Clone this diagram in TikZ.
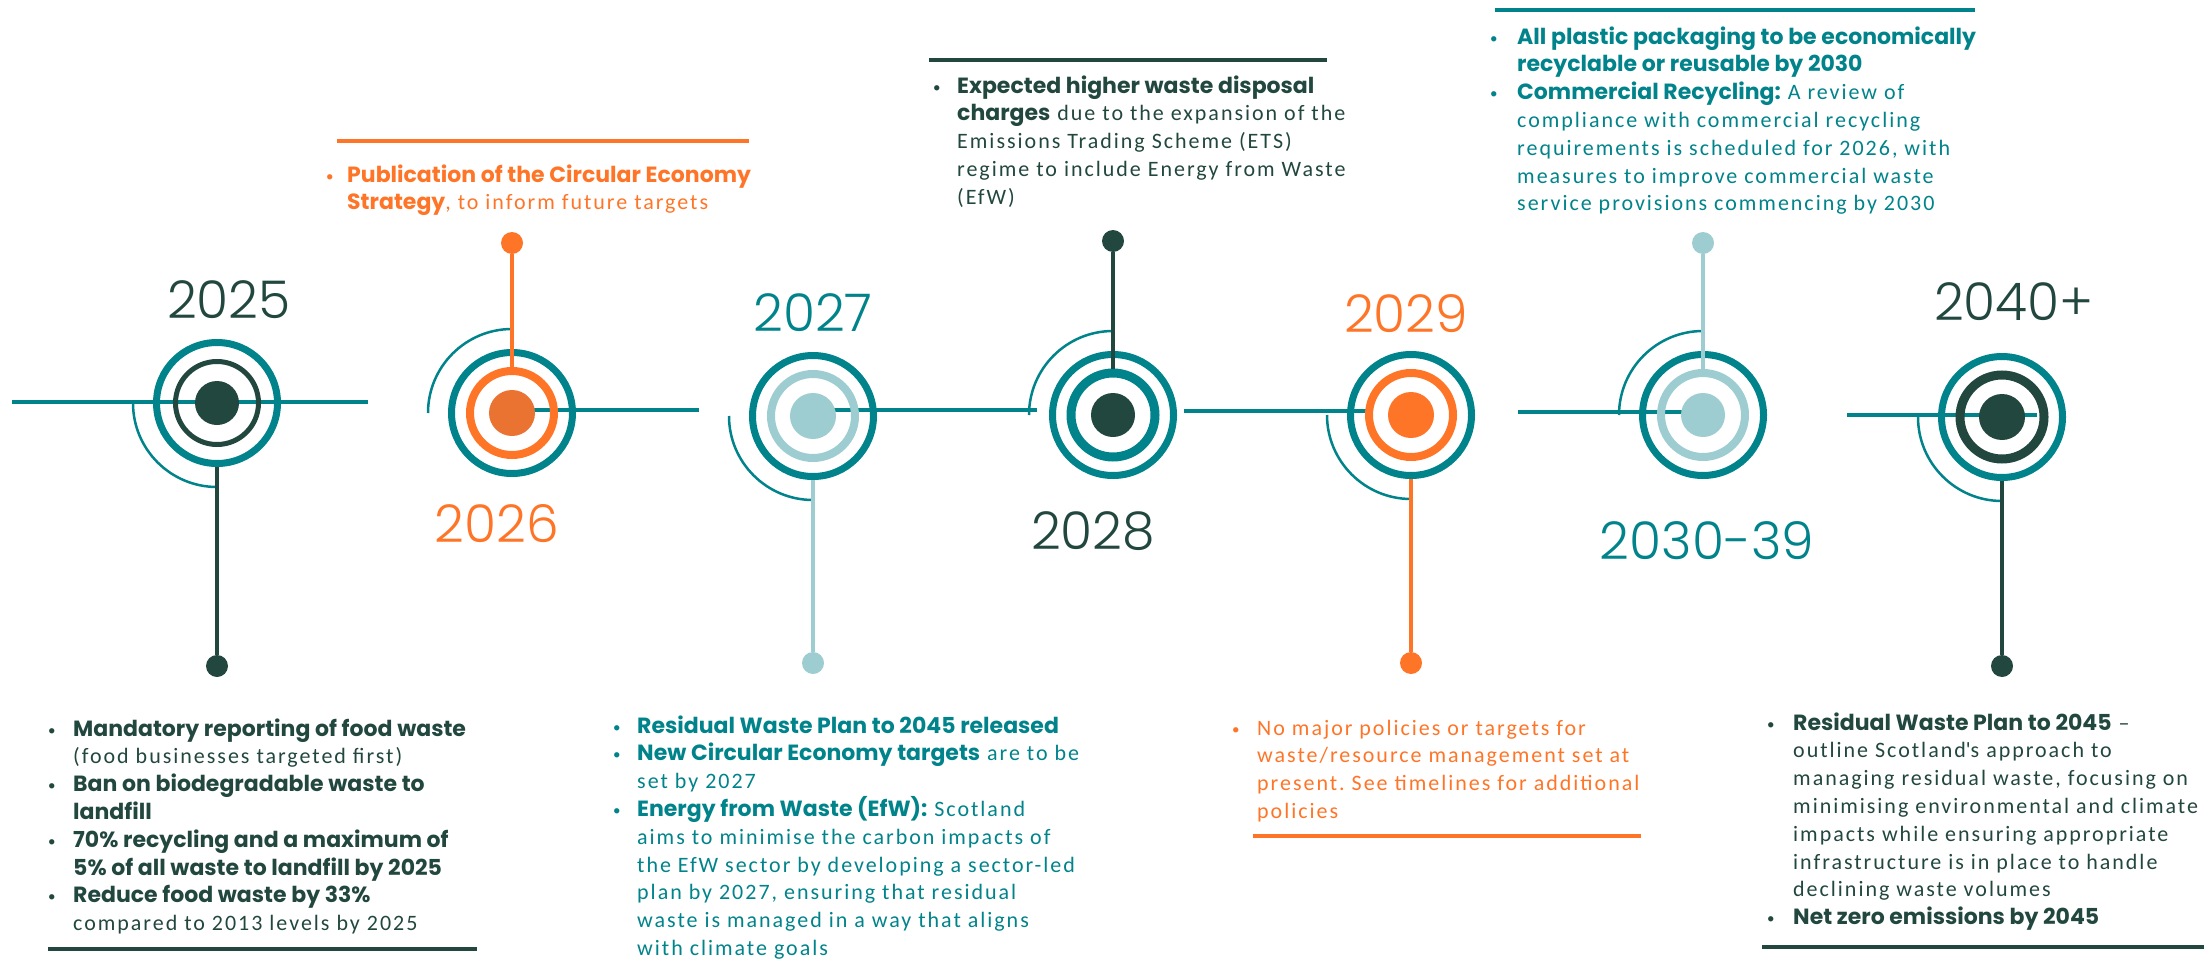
\documentclass[tikz,border=0pt]{standalone}
\usepackage{fontspec}
\setmainfont{Carlito}[LetterSpace=9]
\newfontfamily\gothic{Poppins}
\newfontfamily\yearfont{Poppins Light}
\usepackage{xcolor}
\usepackage{tikz}

\definecolor{tealc}{HTML}{00838A}
\definecolor{darkc}{HTML}{22473E}
\definecolor{orangec}{HTML}{FF7528}
\definecolor{orangedot}{HTML}{EB7332}
\definecolor{bluec}{HTML}{9DCCD1}

\frenchspacing
\newcommand{\hd}[1]{{\gothic\bfseries #1}}
\newcommand{\bl}[1][25pt]{\makebox[#1][l]{\raisebox{1pt}{\fontsize{15pt}{15pt}\selectfont\textbullet}}}
\newcommand{\ind}[1][25pt]{\hspace*{#1}}

\tikzset{
  hline/.style={draw=tealc, line width=3.5pt},
  swing/.style={draw=tealc, line width=2.5pt},
  stem/.style={draw=#1, line width=3.5pt},
  rule/.style={draw=#1, line width=4pt},
  outring/.style={circle, draw=tealc, line width=7pt, minimum size=121pt, inner sep=0pt},
  inring/.style={circle, draw=#1, line width=8pt, minimum size=84pt, inner sep=0pt},
  bigdot/.style={circle, fill=#1, minimum size=46pt, inner sep=0pt},
  pin/.style={circle, fill=#1, minimum size=22pt, inner sep=0pt},
  year/.style={text=#1, inner sep=0pt, font=\yearfont\fontsize{52pt}{60pt}\selectfont},
  txt/.style={text=#1, inner sep=0pt, anchor=north west, align=left,
    font=\fontsize{22pt}{27.8pt}\selectfont}
}

\begin{document}
\begin{tikzpicture}[x=1pt, y=-1pt]
\useasboundingbox (0,0) rectangle (2204,966);

% timeline pieces
\coordinate (l25) at (12,402);
\coordinate (r25) at (368,402);
\coordinate (l26) at (512,410);
\coordinate (r26) at (699,410);
\coordinate (l27) at (813,410);
\coordinate (r27) at (1037,410);
\coordinate (l28) at (1184,411);
\coordinate (r28) at (1373,411);
\coordinate (l30) at (1518,412);
\coordinate (r30) at (1690,412);
\coordinate (l40) at (1847,415);
\coordinate (r40) at (2037,415);
\draw[hline] (l25) -- (r25);
\draw[hline] (l26) -- (r26);
\draw[hline] (l27) -- (r27);
\draw[hline] (l28) -- (r28);
\draw[hline] (l30) -- (r30);
\draw[hline] (l40) -- (r40);

% 2025
\node[outring] (o25) at (217,403) {};
\node[circle, draw=darkc, line width=5pt, minimum size=83pt, inner sep=0pt] (i25) at (217,403) {};
\node[bigdot=darkc, minimum size=44pt] (d25) at (217,403) {};
\node[pin=darkc] (p25) at (217,666) {};
\node[year=darkc] (t25) at (229,300) {2025};
% 2026
\node[outring] (o26) at (512,413) {};
\node[inring=orangec] (i26) at (512,413) {};
\node[bigdot=orangedot] (d26) at (512,413) {};
\node[pin=orangec] (p26) at (512,243) {};
\node[year=orangec] (t26) at (497,524) {2026};
% 2027
\node[outring] (o27) at (813,416) {};
\node[inring=bluec] (i27) at (813,416) {};
\node[bigdot=bluec] (d27) at (813,416) {};
\node[pin=bluec] (p27) at (813,663) {};
\node[year=tealc] (t27) at (813,313) {2027};
% 2028
\node[outring] (o28) at (1113,415) {};
\node[inring=tealc, line width=9pt] (i28) at (1113,415) {};
\node[bigdot=darkc, minimum size=44pt] (d28) at (1113,415) {};
\node[pin=darkc] (p28) at (1113,241) {};
\node[year=darkc] (t28) at (1093,531) {2028};
% 2029
\node[outring] (o29) at (1411,415) {};
\node[inring=orangec] (i29) at (1411,415) {};
\node[bigdot=orangec] (d29) at (1411,415) {};
\node[pin=orangec] (p29) at (1411,663) {};
\node[year=orangec] (t29) at (1406,314) {2029};
% 2030-39
\node[outring] (o30) at (1703,415) {};
\node[inring=bluec] (i30) at (1703,415) {};
\node[bigdot=bluec, minimum size=44pt] (d30) at (1703,415) {};
\node[pin=bluec] (p30) at (1703,243) {};
\node[year=tealc] (t30) at (1707,541) {2030-39};
% 2040+
\node[outring] (o40) at (2002,417) {};
\node[inring=darkc, line width=9pt] (i40) at (2002,417) {};
\node[bigdot=darkc] (d40) at (2002,417) {};
\node[pin=darkc] (p40) at (2002,666) {};
\node[year=darkc] (t40) at (2014,302) {2040+};

% swings round the rings
\draw[swing] (o25.center) ++(180:84) arc[start angle=180, end angle=90, radius=84];
\draw[swing] (o26.center) ++(180:84) arc[start angle=180, end angle=270, radius=84];
\draw[swing] (o27.center) ++(180:84) arc[start angle=180, end angle=90, radius=84];
\draw[swing] (o28.center) ++(180:84) arc[start angle=180, end angle=270, radius=84];
\draw[swing] (o29.center) ++(180:84) arc[start angle=180, end angle=90, radius=84];
\draw[swing] (o30.center) ++(180:84) arc[start angle=180, end angle=270, radius=84];
\draw[swing] (o40.center) ++(180:84) arc[start angle=180, end angle=90, radius=84];

% stems
\draw[stem=darkc] (o25) -- (p25);
\draw[stem=orangec] (p26) -- (i26);
\draw[stem=bluec] (o27) -- (p27);
\draw[stem=darkc] (p28) -- (i28);
\draw[stem=orangec] (o29) -- (p29);
\draw[stem=bluec] (p30) -- (i30);
\draw[stem=darkc] (o40) -- (p40);

% rules
\draw[rule=orangec] (337,141) -- (749,141);
\draw[rule=darkc] (929,60) -- (1327,60);
\draw[rule=tealc] (1495,10) -- (1975,10);
\draw[rule=darkc] (48,949) -- (477,949);
\draw[rule=orangec] (1253,836) -- (1641,836);
\draw[rule=darkc] (1762,947) -- (2204,947);

% notes
\node[txt=orangec] (n26) at (326,162.5) {\strut\bl[21pt]\hd{Publication of the Circular Economy}\\
  \ind[21pt]\hd{Strategy}, to inform future targets};
\node[txt=darkc] (n28) at (933,73.5) {\strut\bl[24pt]\hd{Expected higher waste disposal}\\
  \ind[24pt]\hd{charges} due to the expansion of the\\
  \ind[24pt]Emissions Trading Scheme (ETS)\\
  \ind[24pt]regime to include Energy from Waste\\
  \ind[24pt](EfW)};
\node[txt=tealc] (n30) at (1490,24.5) {\strut\bl[27pt]\hd{All plastic packaging to be economically}\\
  \ind[27pt]\hd{recyclable or reusable by 2030}\\
  \bl[27pt]\hd{Commercial Recycling:} A review of\\
  \ind[27pt]compliance with commercial recycling\\
  \ind[27pt]requirements is scheduled for 2026, with\\
  \ind[27pt]measures to improve commercial waste\\
  \ind[27pt]service provisions commencing by 2030};
\node[txt=darkc] (n25) at (48,716.5) {\strut\bl\hd{Mandatory reporting of food waste}\\
  \ind(food businesses targeted first)\\
  \bl\hd{Ban on biodegradable waste to}\\
  \ind\hd{landfill}\\
  \bl\hd{70\% recycling and a maximum of}\\
  \ind\hd{5\% of all waste to landfill by 2025}\\
  \bl\hd{Reduce food waste by 33\%}\\
  \ind compared to 2013 levels by 2025};
\node[txt=tealc] (n27) at (613,713.5) {\strut\bl[24pt]\hd{Residual Waste Plan to 2045 released}\\
  \bl[24pt]\hd{New Circular Economy targets} are to be\\
  \ind[24pt]set by 2027\\
  \bl[24pt]\hd{Energy from Waste (EfW):} Scotland\\
  \ind[24pt]aims to minimise the carbon impacts of\\
  \ind[24pt]the EfW sector by developing a sector-led\\
  \ind[24pt]plan by 2027, ensuring that residual\\
  \ind[24pt]waste is managed in a way that aligns\\
  \ind[24pt]with climate goals};
\node[txt=orangec] (n29) at (1232,715.5) {\strut\bl No major policies or targets for\\
  \ind waste/resource management set at\\
  \ind present. See timelines for additional\\
  \ind policies};
\node[txt=darkc] (n40) at (1767,710.5) {\strut\bl[26pt]\hd{Residual Waste Plan to 2045} --\\
  \ind[26pt]outline Scotland\textquotesingle s approach to\\
  \ind[26pt]managing residual waste, focusing on\\
  \ind[26pt]minimising environmental and climate\\
  \ind[26pt]impacts while ensuring appropriate\\
  \ind[26pt]infrastructure is in place to handle\\
  \ind[26pt]declining waste volumes\\
  \bl[26pt]\hd{Net zero emissions by 2045}};
\end{tikzpicture}
\end{document}
